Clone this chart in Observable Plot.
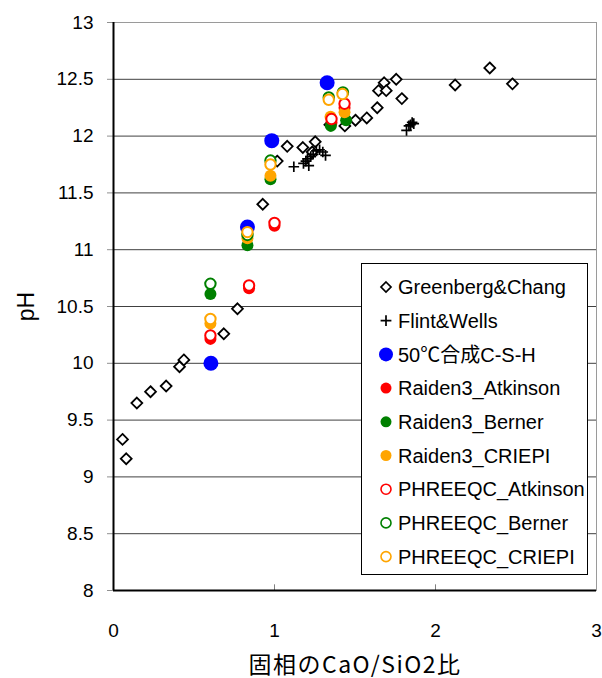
<!DOCTYPE html>
<html>
<head>
<meta charset="utf-8">
<script src="https://cdn.jsdelivr.net/npm/d3@7"></script>
<script src="https://cdn.jsdelivr.net/npm/@observablehq/plot@0.6"></script>
<style>
  html, body { margin: 0; padding: 0; background: white; }
  #chart { position: relative; width: 602px; height: 678px; }
  #legend { position: absolute; left: 361px; top: 263px; }
</style>
</head>
<body>
<div id="chart"></div>
<script>
// Axis ticks
const xTicks = [0, 1, 2, 3];
const yTicks = [8, 8.5, 9, 9.5, 10, 10.5, 11, 11.5, 12, 12.5, 13];

// Greenberg & Chang
const greenbergX = [0.056, 0.079, 0.145, 0.23, 0.327, 0.41, 0.437, 0.685, 0.77, 0.927, 1.017, 1.079, 1.176, 1.234, 1.253, 1.344, 1.437, 1.503, 1.573, 1.638, 1.646, 1.681, 1.694, 1.756, 1.791, 2.122, 2.337, 2.478];
const greenbergPH = [9.33, 9.16, 9.65, 9.75, 9.80, 9.97, 10.03, 10.26, 10.48, 11.40, 11.78, 11.91, 11.90, 11.86, 11.95, 12.10, 12.09, 12.14, 12.16, 12.25, 12.40, 12.47, 12.40, 12.50, 12.33, 12.45, 12.60, 12.46];

// Flint & Wells
const flintX = [1.12, 1.18, 1.195, 1.205, 1.213, 1.225, 1.24, 1.26, 1.28, 1.30, 1.317, 1.82, 1.835, 1.845, 1.855, 1.865];
const flintPH = [11.73, 11.76, 11.78, 11.80, 11.74, 11.82, 11.84, 11.87, 11.88, 11.86, 11.83, 12.05, 12.09, 12.10, 12.12, 12.11];

// 50°C synthesised C-S-H
const csh50X = [0.605, 0.832, 0.983, 1.327];
const csh50PH = [10.00, 11.20, 11.96, 12.47];

// Raiden3 calculations
const raidenAtkinsonX = [0.602, 0.842, 1.0, 1.354, 1.435];
const raidenAtkinsonPH = [10.215, 10.66, 11.21, 12.12, 12.25];
const raidenBernerX = [0.602, 0.832, 0.975, 1.35, 1.445];
const raidenBernerPH = [10.61, 11.04, 11.62, 12.09, 12.14];
const raidenCriepiX = [0.602, 0.832, 0.975, 1.348, 1.435];
const raidenCriepiPH = [10.35, 11.10, 11.65, 12.17, 12.21];

// PHREEQC calculations
const phreeqcAtkinsonX = [0.602, 0.842, 1.0, 1.354, 1.435];
const phreeqcAtkinsonPH = [10.245, 10.685, 11.235, 12.15, 12.285];
const phreeqcBernerX = [0.602, 0.832, 0.975, 1.337, 1.425];
const phreeqcBernerPH = [10.70, 11.13, 11.785, 12.34, 12.385];
const phreeqcCriepiX = [0.602, 0.832, 0.975, 1.337, 1.422];
const phreeqcCriepiPH = [10.39, 11.155, 11.75, 12.32, 12.37];

const seriesNames = ["Greenberg&Chang", "Flint&Wells", "50℃合成C-S-H", "Raiden3_Atkinson", "Raiden3_Berner", "Raiden3_CRIEPI", "PHREEQC_Atkinson", "PHREEQC_Berner", "PHREEQC_CRIEPI"];

const BLUE = "#0000ff", RED = "#ff0000", GREEN = "#008000", ORANGE = "#ffa500";

const pts = (xs, ys) => xs.map((x, i) => ({x, y: ys[i]}));

const FONT = '"Liberation Sans", "Noto Sans CJK JP", sans-serif';

const plot = Plot.plot({
  width: 602,
  height: 678,
  marginLeft: 113,
  marginRight: 6,
  marginTop: 22,
  marginBottom: 88,
  style: {fontFamily: FONT, fontSize: "19px", color: "black", background: "white"},
  x: {domain: [0, 3]},
  y: {domain: [8, 13]},
  marks: [
    Plot.gridY(yTicks, {stroke: "#404040", strokeOpacity: 1, strokeWidth: 1}),
    Plot.frame({stroke: "#9a9a9a"}),
    Plot.ruleX([1, 2], {y1: 8, y2: 8.05, stroke: "#808080"}),
    Plot.axisY(yTicks, {
      tickSize: 6, tickPadding: 14, stroke: "#909090", fontSize: 19,
      tickFormat: d => String(d),
      label: "pH", labelAnchor: "center", labelArrow: "none", labelOffset: 96
    }),
    Plot.axisX(xTicks, {
      tickSize: 0, tickPadding: 33, fontSize: 19,
      tickFormat: d => String(d),
      label: "固相のCaO/SiO2比", labelAnchor: "center", labelArrow: "none", labelOffset: 82
    }),
    Plot.ruleX([0], {stroke: "black", strokeWidth: 2}),
    Plot.ruleY([8], {stroke: "black", strokeWidth: 2}),

    Plot.dot(pts(greenbergX, greenbergPH), {x: "x", y: "y", symbol: "diamond2", r: 4.9, stroke: "black", strokeWidth: 1.8, fill: "white"}),
    Plot.dot(pts(flintX, flintPH), {x: "x", y: "y", symbol: "plus", r: 3.5, stroke: "black", strokeWidth: 1.7}),
    Plot.dot(pts(csh50X, csh50PH), {x: "x", y: "y", r: 7.5, fill: BLUE}),
    Plot.dot(pts(raidenAtkinsonX, raidenAtkinsonPH), {x: "x", y: "y", r: 6, fill: RED}),
    Plot.dot(pts(raidenBernerX, raidenBernerPH), {x: "x", y: "y", r: 6, fill: GREEN}),
    Plot.dot(pts(raidenCriepiX, raidenCriepiPH), {x: "x", y: "y", r: 6, fill: ORANGE}),
    Plot.dot(pts(phreeqcAtkinsonX, phreeqcAtkinsonPH), {x: "x", y: "y", r: 5.2, stroke: RED, strokeWidth: 2, fill: "white"}),
    Plot.dot(pts(phreeqcBernerX, phreeqcBernerPH), {x: "x", y: "y", r: 5.2, stroke: GREEN, strokeWidth: 2, fill: "white"}),
    Plot.dot(pts(phreeqcCriepiX, phreeqcCriepiPH), {x: "x", y: "y", r: 5.2, stroke: ORANGE, strokeWidth: 2, fill: "white"})
  ]
});

// Larger axis titles
d3.select(plot).selectAll('g[aria-label="x-axis label"]')
  .attr("font-size", 23).attr("letter-spacing", "1.5px")
  .attr("font-family", '"Noto Sans CJK JP", sans-serif');
d3.select(plot).selectAll('g[aria-label="y-axis label"]')
  .attr("font-size", 23);

const chart = document.getElementById("chart");
chart.appendChild(plot);

// Legend box drawn over the plot area
const legendStyles = [
  {type: "diamond"},
  {type: "plus"},
  {type: "dot", r: 7, fill: BLUE},
  {type: "dot", r: 5.5, fill: RED},
  {type: "dot", r: 5.5, fill: GREEN},
  {type: "dot", r: 5.5, fill: ORANGE},
  {type: "ring", r: 5, stroke: RED},
  {type: "ring", r: 5, stroke: GREEN},
  {type: "ring", r: 5, stroke: ORANGE}
];

const LW = 227, LH = 312, rowStep = 33.7, firstRow = 24;
const legend = d3.create("svg")
  .attr("id", "legend")
  .attr("width", LW)
  .attr("height", LH)
  .style("font-family", FONT)
  .style("font-size", "20px");

legend.append("rect")
  .attr("x", 0.5).attr("y", 0.5)
  .attr("width", LW - 1).attr("height", LH - 1)
  .attr("fill", "white").attr("stroke", "black").attr("stroke-width", 1);

seriesNames.forEach((name, i) => {
  const cy = firstRow + i * rowStep;
  const cx = 25;
  const s = legendStyles[i];
  const g = legend.append("g");
  if (s.type === "diamond") {
    g.append("path")
      .attr("d", d3.symbol(d3.symbolDiamond2, 64)())
      .attr("transform", `translate(${cx},${cy})`)
      .attr("fill", "white").attr("stroke", "black").attr("stroke-width", 1.7);
  } else if (s.type === "plus") {
    g.append("path")
      .attr("d", d3.symbol(d3.symbolPlus, 40)())
      .attr("transform", `translate(${cx},${cy})`)
      .attr("fill", "none").attr("stroke", "black").attr("stroke-width", 1.7);
  } else if (s.type === "dot") {
    g.append("circle").attr("cx", cx).attr("cy", cy).attr("r", s.r).attr("fill", s.fill);
  } else {
    g.append("circle").attr("cx", cx).attr("cy", cy).attr("r", s.r)
      .attr("fill", "white").attr("stroke", s.stroke).attr("stroke-width", 1.6);
  }
  legend.append("text")
    .attr("x", 37)
    .attr("y", cy)
    .attr("dy", "0.36em")
    .attr("fill", "black")
    .text(name);
});

chart.appendChild(legend.node());
</script>
</body>
</html>
